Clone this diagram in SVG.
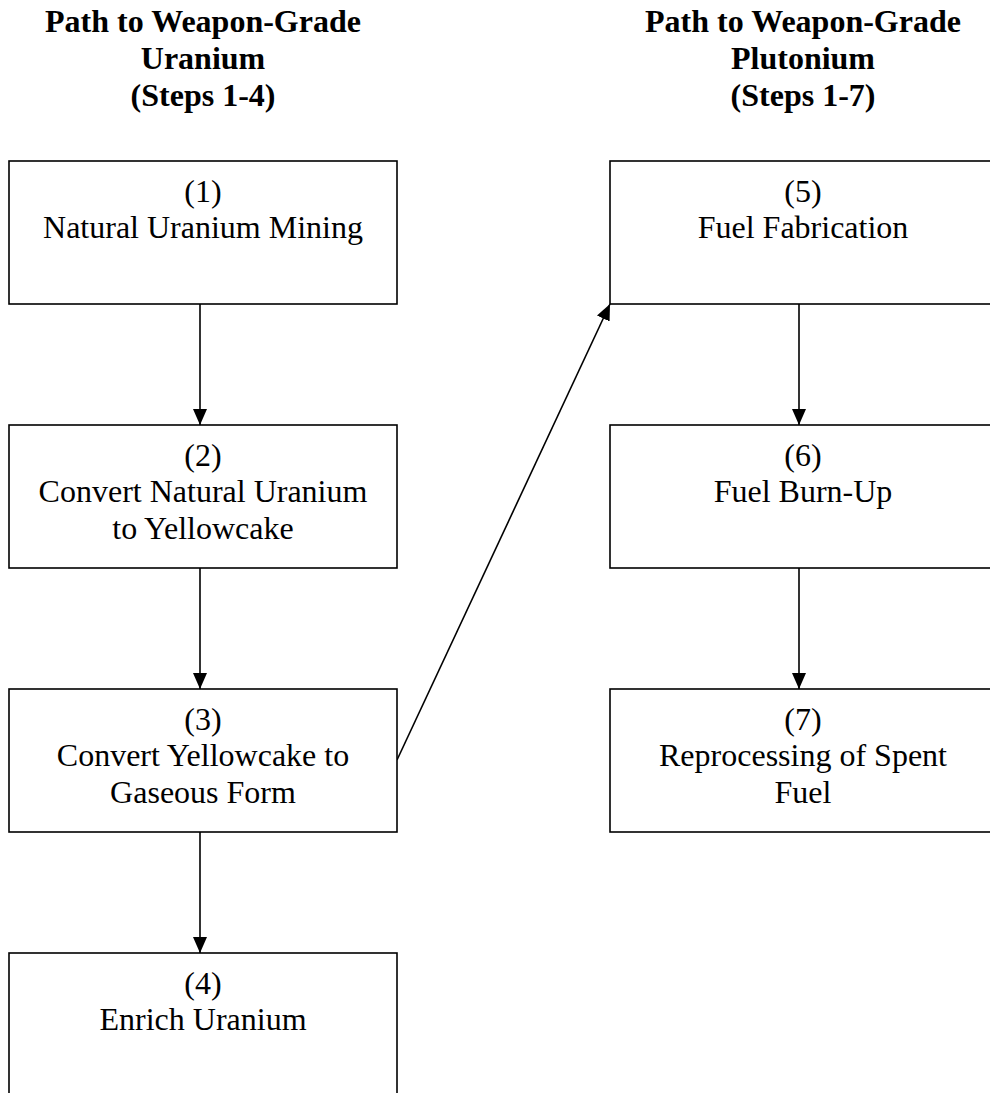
<svg xmlns="http://www.w3.org/2000/svg" width="990" height="1093" viewBox="0 0 990 1093">
<style>
.box{fill:#fff;stroke:#000;stroke-width:1.6}
.t{font-family:"Liberation Serif","Times New Roman",serif;font-size:32px;fill:#000;text-anchor:middle}
.h{font-weight:bold}
.c{stroke:#000;stroke-width:1.6;fill:none;marker-end:url(#ah)}
</style>
<defs>
<marker id="ah" markerUnits="userSpaceOnUse" markerWidth="16" markerHeight="16" refX="16" refY="7" orient="auto">
<path d="M0,0 L16,7 L0,14 Z" fill="#000"/>
</marker>
</defs>
<rect width="990" height="1093" fill="#fff"/>
<g id="title-uranium">
<text class="t h" x="203" y="32">Path to Weapon-Grade</text>
<text class="t h" x="203" y="69">Uranium</text>
<text class="t h" x="203" y="106">(Steps 1-4)</text>
</g>
<g id="title-plutonium">
<text class="t h" x="803" y="32">Path to Weapon-Grade</text>
<text class="t h" x="803" y="69">Plutonium</text>
<text class="t h" x="803" y="106">(Steps 1-7)</text>
</g>
<g id="connectors">
<line class="c" x1="200" y1="304" x2="200" y2="425"/>
<line class="c" x1="200" y1="568" x2="200" y2="689"/>
<line class="c" x1="200" y1="832" x2="200" y2="953"/>
<line class="c" x1="397" y1="760" x2="610" y2="304"/>
<line class="c" x1="799" y1="304" x2="799" y2="425"/>
<line class="c" x1="799" y1="568" x2="799" y2="689"/>
</g>
<g id="node1">
<rect class="box" x="9" y="161" width="388" height="143"/>
<text class="t" x="203" y="202">(1)</text>
<text class="t" x="203" y="238">Natural Uranium Mining</text>
</g>
<g id="node2">
<rect class="box" x="9" y="425" width="388" height="143"/>
<text class="t" x="203" y="466">(2)</text>
<text class="t" x="203" y="502">Convert Natural Uranium</text>
<text class="t" x="203" y="539">to Yellowcake</text>
</g>
<g id="node3">
<rect class="box" x="9" y="689" width="388" height="143"/>
<text class="t" x="203" y="730">(3)</text>
<text class="t" x="203" y="766">Convert Yellowcake to</text>
<text class="t" x="203" y="803">Gaseous Form</text>
</g>
<g id="node4">
<rect class="box" x="9" y="953" width="388" height="143"/>
<text class="t" x="203" y="994">(4)</text>
<text class="t" x="203" y="1030">Enrich Uranium</text>
</g>
<g id="node5">
<rect class="box" x="610" y="161" width="388" height="143"/>
<text class="t" x="803" y="202">(5)</text>
<text class="t" x="803" y="238">Fuel Fabrication</text>
</g>
<g id="node6">
<rect class="box" x="610" y="425" width="388" height="143"/>
<text class="t" x="803" y="466">(6)</text>
<text class="t" x="803" y="502">Fuel Burn-Up</text>
</g>
<g id="node7">
<rect class="box" x="610" y="689" width="388" height="143"/>
<text class="t" x="803" y="730">(7)</text>
<text class="t" x="803" y="766">Reprocessing of Spent</text>
<text class="t" x="803" y="803">Fuel</text>
</g>
</svg>
